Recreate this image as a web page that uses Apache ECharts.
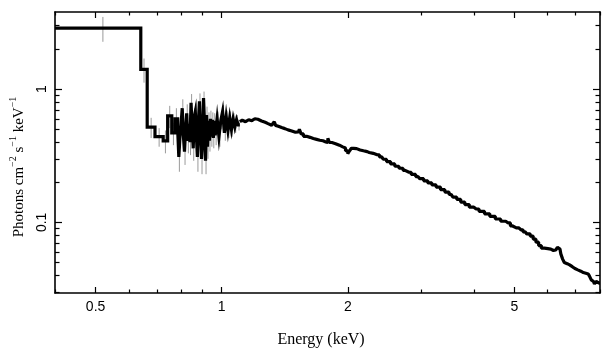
<!DOCTYPE html>
<html><head><meta charset="utf-8">
<script src="https://cdn.jsdelivr.net/npm/echarts@6/dist/echarts.min.js"></script>
<style>html,body{margin:0;padding:0;background:#fff}#c{width:609px;height:357px}</style>
</head><body><div id="c"></div>
<script>
// ---- data ----
const binEdges = [0.4, 0.641, 0.664, 0.693, 0.725, 0.743, 0.760, 0.774,
  0.785, 0.790, 0.795, 0.800, 0.805, 0.810, 0.815, 0.820, 0.825, 0.830,
  0.835, 0.840, 0.845, 0.850, 0.855, 0.860, 0.865, 0.870, 0.875, 0.880,
  0.885, 0.890, 0.895, 0.900, 0.905, 0.910, 0.915, 0.920, 0.925, 0.930,
  0.935, 0.940, 0.945, 0.950, 0.955, 0.960, 0.965,
  0.975, 0.985, 0.995, 1.005, 1.015, 1.025, 1.035, 1.045, 1.055, 1.065,
  1.075, 1.085, 1.095, 1.105];
const binFlux = [2.88, 1.41, 0.52, 0.44, 0.41, 0.63, 0.47, 0.60,
  0.50, 0.31, 0.44, 0.55, 0.72, 0.45, 0.34, 0.50, 0.66, 0.41,
  0.55, 0.40, 0.79, 0.52, 0.36, 0.62, 0.68, 0.45, 0.31, 0.58,
  0.81, 0.47, 0.30, 0.42, 0.86, 0.55, 0.29, 0.64, 0.37, 0.58,
  0.41, 0.60, 0.44, 0.59, 0.43, 0.58,
  0.45, 0.60, 0.44, 0.58, 0.68, 0.47, 0.62, 0.49, 0.61, 0.50,
  0.60, 0.52, 0.59, 0.54];
const binErr = [0.61, 0.29, 0.09, 0.07, 0.08, 0.12, 0.09, 0.12,
  0.09, 0.07, 0.08, 0.10, 0.12, 0.08, 0.07, 0.09, 0.11, 0.08,
  0.09, 0.08, 0.13, 0.09, 0.07, 0.10, 0.11, 0.08, 0.07, 0.10,
  0.12, 0.08, 0.07, 0.08, 0.10, 0.09, 0.06, 0.10, 0.07, 0.09,
  0.07, 0.09, 0.07, 0.08, 0.07, 0.08,
  0.07, 0.08, 0.07, 0.08, 0.08, 0.06, 0.07, 0.06, 0.07, 0.06,
  0.06, 0.05, 0.05, 0.05];
const lineEnergy = [1.105, 1.12, 1.14, 1.16, 1.18, 1.20, 1.22, 1.245, 1.27, 1.29,
  1.316, 1.33, 1.34, 1.35, 1.365, 1.39, 1.415, 1.44, 1.47, 1.50,
  1.525, 1.54, 1.555, 1.58, 1.61, 1.64, 1.67, 1.70, 1.73, 1.76,
  1.785, 1.80, 1.815, 1.85, 1.89, 1.93, 1.96, 1.99, 2.01, 2.03,
  2.05, 2.08, 2.12, 2.16, 2.20, 2.25, 2.30, 2.35, 2.41, 2.45,
  2.50, 2.56, 2.62, 2.68, 2.74, 2.80, 2.87, 2.94, 3.00, 3.07,
  3.14, 3.21, 3.29, 3.37, 3.45, 3.53, 3.60, 3.68, 3.76, 3.85,
  3.95, 4.05, 4.18, 4.30, 4.43, 4.57, 4.70, 4.83, 4.95, 5.05,
  5.18, 5.30, 5.40, 5.50, 5.58, 5.67, 5.75, 5.84, 5.95, 6.06,
  6.15, 6.24, 6.30, 6.36, 6.42, 6.48, 6.55, 6.60, 6.68, 6.77,
  6.87, 6.97, 7.08, 7.20, 7.30, 7.40, 7.50, 7.60, 7.65, 7.72,
  7.80, 7.87, 7.93, 8.0];
const lineFlux = [0.57, 0.585, 0.57, 0.59, 0.58, 0.60, 0.595, 0.578, 0.565, 0.552,
  0.536, 0.545, 0.57, 0.535, 0.527, 0.515, 0.506, 0.495, 0.486, 0.475,
  0.478, 0.50, 0.462, 0.443, 0.435, 0.426, 0.42, 0.414, 0.41, 0.402,
  0.398, 0.428, 0.398, 0.39, 0.38, 0.369, 0.362, 0.345, 0.328, 0.345,
  0.36, 0.358, 0.35, 0.345, 0.34, 0.335, 0.33, 0.322, 0.31, 0.298,
  0.286, 0.275, 0.264, 0.255, 0.246, 0.238, 0.229, 0.221, 0.213, 0.205,
  0.198, 0.191, 0.184, 0.176, 0.169, 0.162, 0.155, 0.149, 0.142, 0.136,
  0.130, 0.126, 0.121, 0.116, 0.111, 0.106, 0.102, 0.099, 0.094, 0.091,
  0.088, 0.085, 0.082, 0.079, 0.075, 0.071, 0.067, 0.064, 0.0635, 0.063,
  0.0615, 0.062, 0.063, 0.065, 0.063, 0.058, 0.053, 0.050, 0.049, 0.048,
  0.0465, 0.045, 0.044, 0.043, 0.042, 0.0415, 0.041, 0.0395, 0.037, 0.036,
  0.0345, 0.036, 0.035, 0.035];
const xMajorTicks = [0.5, 1, 2, 5];
const xMinorTicks = [0.4, 0.6, 0.7, 0.8, 0.9, 3, 4, 6, 7, 8];
const yMajorTicks = [0.1, 1];
const yMinorTicks = [0.03, 0.04, 0.05, 0.06, 0.07, 0.08, 0.09, 0.2, 0.3, 0.4, 0.5, 0.6, 0.7, 0.8, 0.9, 2, 3];
const xTitle = 'Energy (keV)';

// ---- build series data from the arrays ----
const histData = [];
for (let i = 0; i < binFlux.length; i++) {
  histData.push([binEdges[i], binFlux[i]]);
  histData.push([binEdges[i + 1], binFlux[i]]);
}
// error bar sits at the linear centre of each bin
const errData = binFlux.map((v, i) => [(binEdges[i] + binEdges[i + 1]) / 2, v - binErr[i], v + binErr[i]]);
const lineData = lineEnergy.map((e, i) => [e, lineFlux[i]]);

const X_MIN = 0.4, X_MAX = 8, Y_MIN = 0.0295, Y_MAX = 3.8;
const sansFont = 'Liberation Sans';
const serifFont = 'Liberation Serif';

function axis(kind, position, ticks, len, showLine, labels) {
  const isX = kind === 'x';
  return {
    type: 'log', logBase: 10,
    min: isX ? X_MIN : Y_MIN, max: isX ? X_MAX : Y_MAX,
    position: position,
    axisLine: { show: showLine, onZero: false, lineStyle: { color: '#000', width: 1.6 } },
    axisTick: { show: true, inside: true, length: len, customValues: ticks, lineStyle: { color: '#000', width: 1.2 } },
    axisLabel: labels ? {
      show: true, customValues: ticks, color: '#000', fontFamily: sansFont, fontSize: 14,
      margin: isX ? 7 : 6, rotate: isX ? 0 : 90,
      formatter: v => String(v)
    } : { show: false },
    splitLine: { show: false }, minorTick: { show: false }, minorSplitLine: { show: false }
  };
}

const chart = echarts.init(document.getElementById('c'), null, { renderer: 'canvas' });
chart.setOption({
  animation: false,
  backgroundColor: '#fff',
  grid: { left: 55, right: 9, top: 12, bottom: 64, containLabel: false },
  xAxis: [
    axis('x', 'bottom', xMajorTicks, 6, true, true),
    axis('x', 'bottom', xMinorTicks, 3.5, false, false),
    axis('x', 'top', xMajorTicks, 6, true, false),
    axis('x', 'top', xMinorTicks, 3.5, false, false)
  ],
  yAxis: [
    axis('y', 'left', yMajorTicks, 7, true, true),
    axis('y', 'left', yMinorTicks, 4.5, false, false),
    axis('y', 'right', yMajorTicks, 7, true, false),
    axis('y', 'right', yMinorTicks, 4.5, false, false)
  ],
  graphic: [
    { type: 'text', x: 321, y: 340, z: 10,
      style: { text: xTitle, font: '16px "' + serifFont + '"', fill: '#000', align: 'center', verticalAlign: 'middle' } },
    { type: 'text', x: 17.5, y: 167, rotation: Math.PI / 2, z: 10,
      style: {
        text: '{a|Photons cm}{s|−2}{a| s}{s|−1}{a| keV}{s|−1}',
        align: 'center', verticalAlign: 'middle', fill: '#000',
        rich: {
          a: { fontFamily: serifFont, fontSize: 15, lineHeight: 18, verticalAlign: 'bottom', fill: '#000' },
          s: { fontFamily: serifFont, fontSize: 10, lineHeight: 18, verticalAlign: 'top', fill: '#000' }
        }
      } }
  ],
  series: [
    {
      type: 'custom', name: 'errors', xAxisIndex: 0, yAxisIndex: 0, z: 1, clip: true,
      data: errData,
      renderItem: function (params, api) {
        const p1 = api.coord([api.value(0), api.value(1)]);
        const p2 = api.coord([api.value(0), api.value(2)]);
        return { type: 'line', shape: { x1: p1[0], y1: p1[1], x2: p2[0], y2: p2[1] },
          style: { stroke: '#9a9a9a', lineWidth: 1 } };
      }
    },
    {
      type: 'line', name: 'hist', xAxisIndex: 0, yAxisIndex: 0, z: 3, clip: true,
      data: histData, showSymbol: false, symbol: 'none',
      lineStyle: { color: '#000', width: 3.2, join: 'miter' }
    },
    {
      type: 'line', name: 'spec', xAxisIndex: 0, yAxisIndex: 0, z: 3, clip: true,
      data: lineData, showSymbol: false, symbol: 'none', step: 'middle',
      lineStyle: { color: '#000', width: 3.2 }
    }
  ]
});
</script></body></html>
